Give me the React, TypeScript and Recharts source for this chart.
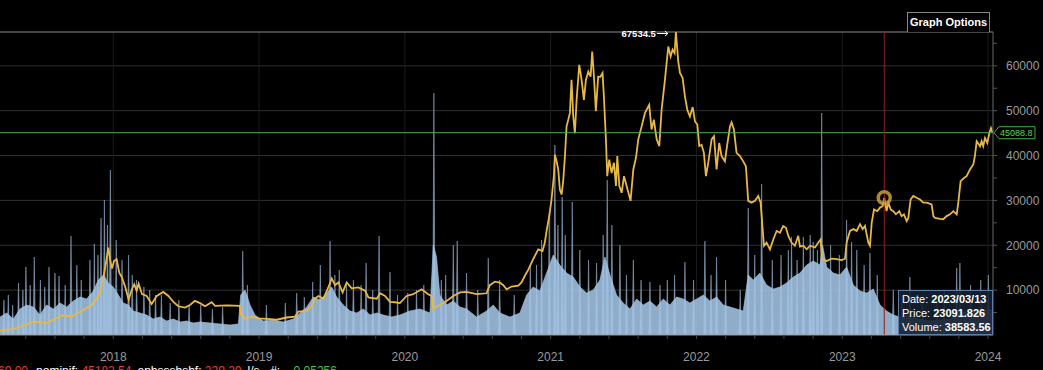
import React from "react";
import { ComposedChart, Line, Area, XAxis, YAxis, ReferenceLine, ReferenceDot, CartesianGrid } from "recharts";

// x values are decimal years
const priceDates = [
  2017.223, 2017.314, 2017.406, 2017.452, 2017.543, 2017.6, 2017.657, 2017.715, 2017.76, 2017.806,
  2017.852, 2017.886, 2017.909, 2017.932, 2017.95, 2017.966, 2017.977, 2017.991, 2018.005, 2018.023,
  2018.041, 2018.06, 2018.083, 2018.105, 2018.128, 2018.144, 2018.16, 2018.174, 2018.197, 2018.229,
  2018.263, 2018.298, 2018.343, 2018.378, 2018.412, 2018.446, 2018.492, 2018.526, 2018.56, 2018.595,
  2018.629, 2018.675, 2018.698, 2018.78, 2018.869, 2018.874, 2018.904, 2018.961, 2018.995, 2019.052,
  2019.121, 2019.189, 2019.247, 2019.269, 2019.327, 2019.361, 2019.384, 2019.407, 2019.441, 2019.475,
  2019.498, 2019.521, 2019.544, 2019.573, 2019.601, 2019.635, 2019.681, 2019.727, 2019.75, 2019.807,
  2019.83, 2019.864, 2019.898, 2019.932, 2019.966, 2020.012, 2020.057, 2020.115, 2020.16, 2020.183,
  2020.195, 2020.229, 2020.286, 2020.332, 2020.378, 2020.423, 2020.492, 2020.56, 2020.583, 2020.618,
  2020.652, 2020.675, 2020.698, 2020.732, 2020.778, 2020.8, 2020.823, 2020.846, 2020.88, 2020.915,
  2020.944, 2020.96, 2020.972, 2020.99, 2021.006, 2021.022, 2021.029, 2021.041, 2021.052, 2021.063,
  2021.075, 2021.086, 2021.098, 2021.109, 2021.121, 2021.132, 2021.143, 2021.155, 2021.166, 2021.178,
  2021.196, 2021.212, 2021.228, 2021.242, 2021.258, 2021.274, 2021.285, 2021.297, 2021.31, 2021.326,
  2021.34, 2021.356, 2021.365, 2021.379, 2021.388, 2021.402, 2021.418, 2021.434, 2021.448, 2021.457,
  2021.471, 2021.487, 2021.503, 2021.521, 2021.548, 2021.567, 2021.585, 2021.601, 2021.624, 2021.647,
  2021.676, 2021.692, 2021.708, 2021.727, 2021.745, 2021.761, 2021.784, 2021.795, 2021.807, 2021.823,
  2021.836, 2021.85, 2021.859, 2021.875, 2021.887, 2021.905, 2021.921, 2021.937, 2021.955, 2021.974,
  2021.99, 2022.006, 2022.019, 2022.035, 2022.051, 2022.065, 2022.081, 2022.104, 2022.12, 2022.138,
  2022.156, 2022.172, 2022.195, 2022.211, 2022.23, 2022.241, 2022.257, 2022.275, 2022.298, 2022.321,
  2022.339, 2022.355, 2022.378, 2022.401, 2022.424, 2022.44, 2022.454, 2022.463, 2022.481, 2022.504,
  2022.527, 2022.55, 2022.573, 2022.595, 2022.614, 2022.63, 2022.652, 2022.675, 2022.698, 2022.71,
  2022.733, 2022.756, 2022.779, 2022.813, 2022.836, 2022.852, 2022.861, 2022.893, 2022.927, 2022.961,
  2022.996, 2023.019, 2023.03, 2023.053, 2023.076, 2023.099, 2023.122, 2023.14, 2023.156, 2023.179,
  2023.19, 2023.202, 2023.218, 2023.24, 2023.259, 2023.277, 2023.288, 2023.304, 2023.316, 2023.332,
  2023.35, 2023.368, 2023.391, 2023.407, 2023.423, 2023.442, 2023.453, 2023.469, 2023.487, 2023.51,
  2023.533, 2023.556, 2023.579, 2023.613, 2023.625, 2023.636, 2023.67, 2023.693, 2023.716, 2023.739,
  2023.762, 2023.785, 2023.796, 2023.812, 2023.835, 2023.853, 2023.876, 2023.899, 2023.91, 2023.922,
  2023.945, 2023.956, 2023.967, 2023.979, 2023.995, 2024.009, 2024.02, 2024.031,
];
const priceValues = [
  960, 1300, 2400, 3000, 2700, 3600, 4400, 4100, 4900, 5800,
  6700, 8100, 9500, 12800, 16100, 19500, 16900, 14800, 16500, 16900,
  13900, 12800, 10600, 7900, 10200, 11300, 9900, 11400, 9100, 8700,
  6900, 8700, 9600, 8700, 7400, 6400, 6100, 6700, 7600, 7100,
  6400, 7300, 6500, 6600, 6500, 4700, 3700, 4100, 3700, 3600,
  3400, 3900, 4100, 5200, 5400, 6500, 8100, 8700, 8100, 10600,
  12600, 11100, 11700, 9500, 11700, 10400, 10600, 9900, 8400, 8100,
  9300, 8700, 7400, 7300, 7100, 8700, 9100, 10200, 9100, 8700,
  5800, 6500, 7600, 8700, 9500, 9600, 9100, 9300, 11100, 11900,
  11700, 11100, 10200, 10800, 11000, 11700, 13200, 14500, 16900, 19100,
  18700, 20600, 23200, 26500, 30200, 35400, 40200, 38700, 36900, 32400,
  31300, 34300, 39900, 46500, 48000, 49500, 56900, 48700, 45000, 52400,
  60200, 56900, 52400, 56900, 58700, 57600, 63200, 57600, 49900, 57600,
  57500, 58400, 53200, 43600, 35400, 39100, 36100, 38400, 33200, 39900,
  33200, 31700, 35400, 33200, 29900, 36900, 39500, 43600, 46500, 49500,
  51300, 45800, 48000, 43600, 42100, 50200, 56900, 60600, 64300, 62100,
  63600, 62800, 67534.5, 61000, 58400, 57300, 53200, 50200, 48700, 50800,
  47600, 46900, 42100, 42400, 40600, 35400, 38400, 43600, 44300, 36900,
  42800, 39900, 38700, 42400, 46500, 47400, 45800, 40600, 39900, 38700,
  37600, 29900, 29500, 29900, 31000, 29500, 23600, 19900, 20600, 19100,
  21300, 23200, 22800, 24300, 23900, 22100, 20600, 19900, 22100, 19700,
  19900, 19100, 19900, 19500, 20600, 21300, 16900, 16500, 17000, 16900,
  16700, 17000, 20600, 23200, 23600, 23200, 24700, 23600, 24300, 20600,
  19900, 25000, 28000, 27600, 28400, 28700, 30600, 27600, 29500, 28000,
  27600, 26900, 27600, 26500, 26900, 25400, 26100, 30200, 31000, 30600,
  30200, 29500, 29500, 29100, 26500, 26100, 25900, 25800, 26500, 26900,
  27600, 26900, 29500, 34300, 35000, 35400, 36900, 38000, 39900, 43200,
  42100, 43200, 42100, 43900, 42800, 45000, 46100, 45088.8,
];

// volume (thousands), dense body of the bars
const volumeDates = [
  2017.223, 2017.269, 2017.314, 2017.36, 2017.406, 2017.452, 2017.497, 2017.543, 2017.589, 2017.635,
  2017.68, 2017.726, 2017.772, 2017.817, 2017.863, 2017.897, 2017.932, 2017.966, 2018.0, 2018.035,
  2018.069, 2018.103, 2018.137, 2018.183, 2018.229, 2018.275, 2018.32, 2018.366, 2018.412, 2018.458,
  2018.503, 2018.549, 2018.595, 2018.664, 2018.732, 2018.801, 2018.858, 2018.874, 2018.904, 2018.938,
  2018.972, 2019.029, 2019.098, 2019.167, 2019.235, 2019.281, 2019.327, 2019.372, 2019.418, 2019.464,
  2019.498, 2019.532, 2019.578, 2019.624, 2019.67, 2019.715, 2019.761, 2019.807, 2019.853, 2019.91,
  2019.966, 2020.035, 2020.103, 2020.172, 2020.195, 2020.217, 2020.24, 2020.286, 2020.332, 2020.378,
  2020.423, 2020.492, 2020.56, 2020.606, 2020.652, 2020.72, 2020.789, 2020.835, 2020.88, 2020.926,
  2020.972, 2021.018, 2021.063, 2021.109, 2021.155, 2021.201, 2021.246, 2021.292, 2021.338, 2021.372,
  2021.407, 2021.452, 2021.498, 2021.544, 2021.59, 2021.635, 2021.681, 2021.727, 2021.772, 2021.818,
  2021.864, 2021.91, 2021.955, 2022.001, 2022.047, 2022.092, 2022.138, 2022.184, 2022.23, 2022.275,
  2022.321, 2022.355, 2022.39, 2022.435, 2022.481, 2022.527, 2022.573, 2022.618, 2022.664, 2022.71,
  2022.756, 2022.801, 2022.847, 2022.865, 2022.893, 2022.939, 2022.984, 2023.03, 2023.076, 2023.122,
  2023.167, 2023.213, 2023.259, 2023.304, 2023.35, 2023.396, 2023.464, 2023.533, 2023.601, 2023.67,
  2023.739, 2023.807, 2023.876, 2023.945, 2024.013, 2024.034,
];
const volumeValues = [
  18, 22, 16, 26, 30, 28, 20, 30, 26, 32,
  28, 34, 38, 36, 44, 55, 60, 52, 48, 40,
  32, 30, 24, 22, 20, 16, 18, 14, 16, 13,
  14, 12, 13, 12, 11, 10, 11, 40, 45, 30,
  20, 14, 15, 13, 16, 22, 28, 38, 35, 42,
  48, 38, 30, 24, 22, 26, 20, 22, 20, 18,
  20, 24, 26, 22, 90, 78, 40, 30, 34, 28,
  26, 18, 24, 30, 22, 18, 22, 40, 48, 44,
  62, 80, 70, 62, 58, 48, 42, 45, 55, 78,
  60, 40, 32, 26, 36, 30, 34, 28, 36, 30,
  38, 36, 32, 36, 40, 34, 38, 30, 28, 26,
  24, 60, 55, 62, 50, 46, 48, 52, 58, 62,
  70, 74, 70, 90, 68, 62, 60, 68, 50, 44,
  42, 46, 30, 24, 20, 18, 20, 16, 14, 15,
  16, 22, 24, 22, 26, 24,
];

// tall thin volume spikes (thousands)
const spikeDates = [
  2017.25, 2017.28, 2017.31, 2017.35, 2017.38, 2017.401, 2017.43, 2017.458, 2017.5, 2017.53,
  2017.559, 2017.6, 2017.628, 2017.67, 2017.71, 2017.75, 2017.78, 2017.84, 2017.87, 2017.895,
  2017.916, 2017.939, 2017.96, 2017.98, 2018.02, 2018.06, 2018.105, 2018.13, 2018.16, 2018.21,
  2018.25, 2018.29, 2018.33, 2018.39, 2018.45, 2018.52, 2018.6, 2018.68, 2018.75, 2018.888,
  2018.92, 2019.05, 2019.18, 2019.258, 2019.31, 2019.368, 2019.42, 2019.487, 2019.52, 2019.55,
  2019.6, 2019.647, 2019.7, 2019.734, 2019.78, 2019.823, 2019.898, 2019.95, 2020.02, 2020.08,
  2020.13, 2020.199, 2020.25, 2020.28, 2020.332, 2020.359, 2020.423, 2020.5, 2020.572, 2020.65,
  2020.75, 2020.86, 2020.903, 2020.938, 2020.99, 2021.029, 2021.05, 2021.079, 2021.1, 2021.148,
  2021.2, 2021.26, 2021.315, 2021.36, 2021.388, 2021.42, 2021.475, 2021.52, 2021.567, 2021.62,
  2021.681, 2021.75, 2021.8, 2021.85, 2021.921, 2021.98, 2022.058, 2022.1, 2022.138, 2022.2,
  2022.3, 2022.355, 2022.4, 2022.447, 2022.52, 2022.58, 2022.63, 2022.652, 2022.69, 2022.733,
  2022.78, 2022.801, 2022.83, 2022.859, 2022.92, 2022.98, 2023.03, 2023.064, 2023.1, 2023.15,
  2023.19, 2023.24, 2023.35, 2023.41, 2023.464, 2023.55, 2023.65, 2023.7, 2023.785, 2023.807,
  2023.88, 2023.95, 2024.002,
];
const spikeValues = [
  35, 40, 30, 52, 45, 68, 50, 78, 55, 48,
  68, 62, 59, 50, 99, 70, 55, 75, 91, 80,
  117, 135, 110, 165, 95, 75, 80, 60, 55, 48,
  45, 40, 40, 32, 35, 30, 30, 26, 28, 84,
  50, 30, 32, 42, 38, 53, 70, 94, 60, 65,
  50, 55, 50, 72, 45, 99, 63, 40, 42, 45,
  50, 242, 55, 60, 90, 94, 62, 45, 77, 55,
  40, 70, 70, 95, 120, 190, 110, 138, 100, 133,
  85, 75, 72, 100, 155, 110, 90, 60, 75, 55,
  53, 50, 55, 60, 73, 55, 94, 60, 78, 55,
  45, 127, 80, 151, 75, 80, 85, 98, 75, 98,
  100, 93, 85, 222, 90, 80, 115, 93, 85, 70,
  82, 60, 45, 40, 58, 40, 35, 45, 67, 72,
  50, 55, 60,
];

const yearTicks = [2018, 2019, 2020, 2021, 2022, 2023, 2024];
const gridPrices = [10000, 20000, 30000, 40000, 50000, 60000];
const minorPriceTicks = [5000, 10000, 15000, 20000, 25000, 30000, 35000, 40000, 45000, 50000, 55000, 60000, 65000];

const domainStart = 2017.223;
const domainEnd = 2024.034;
const maxPrice = 67534.5;
const maxPriceDate = 2021.859;
const lastPrice = 45088.8;
const hoverDate = 2023.288;
const hoverPrice = 30600;
const tooltipDate = "2023/03/13";
const tooltipPrice = "23091.826";
const tooltipVolume = "38583.56";

// minor ticks: each year split into fifths
const minorYearTicks: number[] = [];
for (let y = 2017; y <= 2024; y++) {
  for (let k = 0; k < 5; k++) {
    const v = (y * 5 + k) / 5;
    if (v >= domainStart && v <= domainEnd) minorYearTicks.push(v);
  }
}

type Row = { x: number; price?: number; vol?: number; spike?: number };
const rowMap = new Map<string, Row>();
const getRow = (x: number): Row => {
  const key = x.toFixed(4);
  let r = rowMap.get(key);
  if (!r) {
    r = { x: Number(key) };
    rowMap.set(key, r);
  }
  return r;
};
priceDates.forEach((d, i) => { getRow(d).price = priceValues[i]; });
volumeDates.forEach((d, i) => { getRow(d).vol = volumeValues[i]; });
spikeDates.forEach((d, i) => {
  getRow(d - 0.008).spike = 0;
  getRow(d).spike = spikeValues[i];
  getRow(d + 0.008).spike = 0;
});
const rows = Array.from(rowMap.values()).sort((a, b) => a.x - b.x);

const FONT = 'Arial, "Liberation Sans", sans-serif';

const PriceTag = (props: any) => {
  const vb = props.viewBox || {};
  const x = (vb.x || 0) + (vb.width || 0) / 2;
  const y = (vb.y || 0) + (vb.height || 0) / 2;
  return (
    <g>
      <polygon
        points={`${x + 1},${y} ${x + 6},${y - 6} ${x + 42},${y - 6} ${x + 42},${y + 6} ${x + 6},${y + 6}`}
        fill="#000"
        stroke="#3cae3c"
        strokeWidth={1}
      />
      <text x={x + 7} y={y + 3.3} fill="#56d856" fontSize={9} fontFamily={FONT}>
        {lastPrice.toFixed(1)}
      </text>
    </g>
  );
};

const MaxTag = (props: any) => {
  const vb = props.viewBox || {};
  const cx = (vb.x || 0) + (vb.width || 0) / 2;
  const cy = (vb.y || 0) + (vb.height || 0) / 2;
  return (
    <g>
      <text x={cx - 20} y={cy + 5} fill="#fff" fontSize={9.5} fontWeight="bold" fontFamily={FONT} textAnchor="end">
        {String(maxPrice)}
      </text>
      <line x1={cx - 19} y1={cy + 1.5} x2={cx - 8} y2={cy + 1.5} stroke="#fff" strokeWidth={1} />
      <polyline points={`${cx - 11},${cy - 1} ${cx - 8},${cy + 1.5} ${cx - 11},${cy + 4}`} fill="none" stroke="#fff" strokeWidth={1} />
    </g>
  );
};

export default function App() {
  return (
    <div style={{ position: "fixed", left: 0, top: 0, width: 1043, height: 370, background: "#000", overflow: "hidden", fontFamily: FONT }}>
      <ComposedChart width={1043} height={370} data={rows} margin={{ top: 32, right: 0, bottom: 5, left: 0 }}>
        <CartesianGrid stroke="#303030" horizontalValues={gridPrices} vertical={false} />
        <CartesianGrid stroke="#1c1c1c" verticalValues={yearTicks} horizontal={false} />
        <XAxis
          dataKey="x"
          type="number"
          domain={[domainStart, domainEnd]}
          allowDataOverflow
          ticks={minorYearTicks}
          interval={0}
          tickFormatter={(v: number) => (Math.abs(v - Math.round(v)) < 1e-6 ? String(Math.round(v)) : "")}
          tick={{ fill: "#9a9a9a", fontSize: 12, fontFamily: FONT }}
          tickSize={4}
          tickMargin={13}
          tickLine={{ stroke: "#444" }}
          axisLine={{ stroke: "#9a9a9a" }}
          height={30}
        />
        <YAxis
          orientation="right"
          type="number"
          domain={[0, maxPrice]}
          allowDataOverflow
          ticks={minorPriceTicks}
          interval={0}
          tickFormatter={(v: number) => (v % 10000 === 0 ? String(v) : "")}
          tick={{ fill: "#9a9a9a", fontSize: 12, fontFamily: FONT, textAnchor: "start" }}
          tickSize={4}
          tickMargin={9}
          tickLine={{ stroke: "#555" }}
          axisLine={{ stroke: "#666" }}
          width={50}
        />
        <YAxis yAxisId="vol" hide domain={[0, 303]} allowDataOverflow />
        <ReferenceLine y={maxPrice} stroke="#8a8a8a" strokeWidth={1} />
        <Line
          type="linear"
          dataKey="price"
          stroke="#e8b846"
          strokeWidth={1.8}
          dot={false}
          connectNulls
          isAnimationActive={false}
        />
        <Area
          yAxisId="vol"
          type="linear"
          dataKey="spike"
          stroke="#8fa9c4"
          strokeWidth={0.8}
          strokeOpacity={0.7}
          fill="#a7c3df"
          fillOpacity={0.72}
          connectNulls
          isAnimationActive={false}
        />
        <Area
          yAxisId="vol"
          type="linear"
          dataKey="vol"
          stroke="#a8c8e8"
          strokeWidth={0.6}
          fill="#a3c4e5"
          fillOpacity={0.88}
          connectNulls
          isAnimationActive={false}
        />
        <ReferenceLine y={lastPrice} stroke="#4cae4c" strokeWidth={1} />
        <ReferenceDot x={domainEnd} y={lastPrice} r={0.1} fill="none" stroke="none" label={<PriceTag />} />
        <ReferenceLine x={hoverDate} stroke="#a51a1a" strokeWidth={1} />
        <ReferenceDot x={hoverDate} y={hoverPrice} r={6} fill="none" stroke="#c9a13b" strokeWidth={3.5} strokeOpacity={0.85} />
        <ReferenceDot x={maxPriceDate} y={maxPrice} r={0.1} fill="none" stroke="none" label={<MaxTag />} />
      </ComposedChart>

      <div
        style={{
          position: "absolute", left: 907, top: 12, width: 83, height: 20,
          borderTop: "1px solid #888", borderLeft: "1px solid #888", borderRight: "1px solid #888",
          background: "#000", color: "#fff", fontWeight: "bold", fontSize: 11, lineHeight: "19px",
          textAlign: "center", boxSizing: "border-box",
        }}
      >
        Graph Options
      </div>

      <div
        style={{
          position: "absolute", left: 898, top: 290, width: 95, height: 45,
          border: "1.5px solid #5a7ea6", background: "rgba(22,32,48,0.9)", color: "#fff",
          fontSize: 11, lineHeight: "14px", padding: "1px 0 0 3px", boxSizing: "border-box", whiteSpace: "nowrap",
        }}
      >
        <div>Date: <b>{tooltipDate}</b></div>
        <div>Price: <b>{tooltipPrice}</b></div>
        <div>Volume: <b>{tooltipVolume}</b></div>
      </div>

      <div style={{ position: "absolute", left: -2, top: 364, fontSize: 12, lineHeight: "14px", whiteSpace: "nowrap" }}>
        <span style={{ color: "#e53935" }}>69.00</span>
        <span style={{ color: "#fff", marginLeft: 8 }}>nominif: </span>
        <span style={{ color: "#e53935" }}>45182.54</span>
        <span style={{ color: "#fff", marginLeft: 6 }}>ephsssbshf: </span>
        <span style={{ color: "#e53935" }}>229.29</span>
        <span style={{ color: "#fff", marginLeft: 6 }}>l/s  ·  #: </span>
        <span style={{ color: "#43c443", marginLeft: 10 }}>0.05256</span>
      </div>
    </div>
  );
}
